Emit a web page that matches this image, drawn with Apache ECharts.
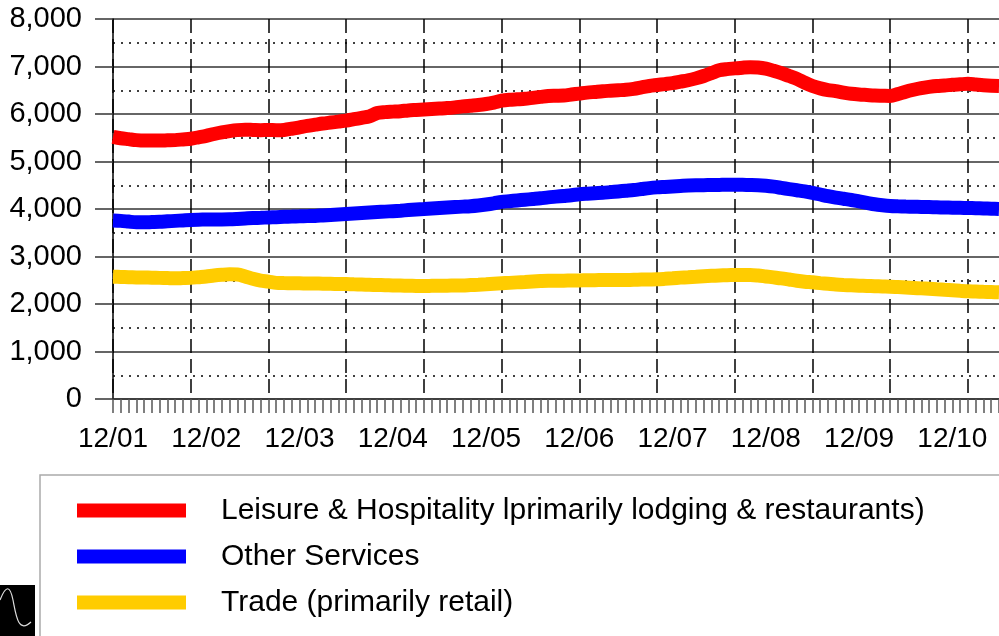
<!DOCTYPE html>
<html>
<head>
<meta charset="utf-8">
<script src="https://cdn.jsdelivr.net/npm/echarts@6/dist/echarts.min.js"></script>
<style>
    html, body { margin: 0; padding: 0; background: #fff; }
    #chart { width: 999px; height: 636px; }
</style>
</head>
<body>
<div id="chart"></div>
<script>
    // months Dec 2001 .. Jun 2011, label "MM/YY"
    const startYear = 2001, startMonth = 12, monthCount = 115;
    const months = [];
    for (let i = 0; i < monthCount; i++) {
        const m = (startMonth - 1 + i) % 12 + 1;
        const y = startYear + Math.floor((startMonth - 1 + i) / 12);
        months.push((m < 10 ? '0' : '') + m + '/' + String(y % 100).padStart(2, '0'));
    }

    const seriesNames = [
        'Leisure & Hospitality lprimarily lodging & restaurants)',
        'Other Services',
        'Trade (primarily retail)'
    ];

    const leisure = [
        5520, 5490, 5470, 5450, 5440, 5440, 5440, 5445, 5450, 5465,
        5480, 5510, 5540, 5580, 5615, 5640, 5660, 5670, 5665, 5660,
        5665, 5660, 5665, 5690, 5720, 5750, 5775, 5800, 5820, 5840,
        5860, 5890, 5920, 5950, 6020, 6040, 6050, 6060, 6075, 6085,
        6095, 6105, 6115, 6125, 6140, 6160, 6175, 6190, 6210, 6240,
        6280, 6300, 6310, 6320, 6340, 6360, 6380, 6385, 6390, 6410,
        6430, 6450, 6465, 6480, 6490, 6500, 6510, 6530, 6560, 6590,
        6610, 6630, 6650, 6680, 6710, 6750, 6800, 6860, 6920, 6945,
        6960, 6975, 6985, 6980, 6955, 6910, 6860, 6800, 6740, 6660,
        6590, 6540, 6505, 6480, 6450, 6425, 6410, 6400, 6390, 6385,
        6380, 6420, 6470, 6510, 6545, 6570, 6590, 6600, 6615, 6625,
        6635, 6620, 6605, 6595, 6590
    ];
    const otherServices = [
        3760, 3750, 3735, 3720, 3720, 3725, 3730, 3740, 3750, 3760,
        3770, 3775, 3778, 3780, 3780, 3782, 3790, 3800, 3810, 3815,
        3822, 3828, 3835, 3840, 3845, 3850, 3855, 3865, 3875, 3885,
        3895, 3905, 3915, 3925, 3935, 3945, 3955, 3965, 3978, 3990,
        4000, 4010, 4020, 4030, 4040, 4050, 4060, 4075, 4095, 4120,
        4150, 4165, 4180, 4195, 4210, 4225, 4245, 4260, 4275, 4290,
        4310, 4322, 4332, 4340, 4355, 4370, 4385, 4400, 4420, 4440,
        4455, 4465, 4475, 4485, 4495, 4500, 4502, 4505, 4507, 4510,
        4510, 4508, 4505, 4500, 4488, 4470, 4445, 4420, 4395, 4370,
        4340, 4305, 4270, 4240, 4215, 4190, 4160, 4130, 4100, 4080,
        4065, 4058, 4052, 4048, 4044, 4040, 4036, 4032, 4028, 4025,
        4022, 4018, 4012, 4006, 4000
    ];
    const trade = [
        2575, 2570, 2565, 2560, 2558, 2555, 2550, 2545, 2540, 2545,
        2550, 2565, 2580, 2600, 2615, 2625, 2620, 2580, 2530, 2490,
        2470, 2445, 2440, 2438, 2435, 2432, 2430, 2428, 2425, 2422,
        2420, 2415, 2410, 2405, 2400, 2395, 2390, 2387, 2384, 2381,
        2380, 2382, 2384, 2386, 2388, 2390, 2398, 2406, 2415, 2425,
        2435, 2445, 2455, 2465, 2475, 2482, 2488, 2490, 2492, 2495,
        2497, 2500, 2502, 2504, 2505, 2505, 2506, 2510, 2514, 2517,
        2520, 2530, 2542, 2555, 2565, 2575, 2585, 2593, 2600, 2606,
        2610, 2612, 2612, 2600, 2580, 2560, 2540, 2515, 2490, 2470,
        2456, 2440, 2425, 2410, 2400, 2393, 2386, 2380, 2374, 2369,
        2365, 2356, 2347, 2338, 2329, 2320, 2310, 2300, 2290, 2278,
        2267, 2262, 2256, 2251, 2246
    ];

    const colors = ['#ff0000', '#0000ff', '#ffcc00'];
    const font = '"Liberation Sans", Arial, sans-serif';

    const myChart = echarts.init(document.getElementById('chart'));

    const lineSeries = (name, data) => ({
        name: name,
        type: 'line',
        data: data,
        smooth: 0.3,
        showSymbol: false,
        lineStyle: { width: 14 }
    });

    const option = {
        color: colors,
        animation: false,
        textStyle: { fontFamily: font, color: '#000' },
        grid: { left: 113, top: 19, right: -4, bottom: 237 },
        legend: {
            orient: 'vertical',
            left: 77,
            top: 495,
            padding: 0,
            itemGap: 15,
            icon: 'rect',
            itemWidth: 109,
            itemHeight: 14,
            selectedMode: false,
            data: seriesNames,
            textStyle: {
                fontFamily: font,
                fontSize: 30,
                color: '#000',
                lineHeight: 31,
                padding: [0, 0, 0, 30]
            }
        },
        xAxis: {
            type: 'category',
            boundaryGap: false,
            data: months,
            axisLine: { lineStyle: { color: '#333', width: 1.5 } },
            axisTick: { interval: 0, length: 14, lineStyle: { color: '#555', width: 1.5 } },
            axisLabel: {
                interval: 11,
                margin: 26,
                fontSize: 28,
                color: '#000',
                fontFamily: font
            },
            splitLine: {
                show: true,
                interval: 9,
                lineStyle: { color: '#000', width: 1.5, type: [14, 6] }
            }
        },
        yAxis: {
            type: 'value',
            min: 0,
            max: 8000,
            interval: 1000,
            axisLine: { show: true, lineStyle: { color: '#000', width: 1.5 } },
            axisTick: { show: true, length: 18, lineStyle: { color: '#333', width: 1.5 } },
            axisLabel: {
                margin: 31,
                fontSize: 29,
                color: '#000',
                fontFamily: font,
                formatter: v => v.toLocaleString('en-US')
            },
            splitLine: { lineStyle: { color: '#333', width: 1.5 } },
            minorTick: { show: false, splitNumber: 2 },
            minorSplitLine: {
                show: true,
                lineStyle: { color: '#000', width: 1.5, type: [2, 6] }
            }
        },
        // legend frame + small logo bottom left
        graphic: [
            {
                type: 'rect',
                shape: { x: 40, y: 475, width: 1000, height: 200 },
                style: { fill: 'none', stroke: '#aaa', lineWidth: 1.5 },
                z: -1
            },
            {
                type: 'rect',
                shape: { x: 0, y: 585, width: 35, height: 60 },
                style: { fill: '#000' }
            },
            {
                type: 'bezierCurve',
                shape: { x1: 0, y1: 600, cpx1: 6, cpy1: 585, cpx2: 10, cpy2: 585, x2: 13, y2: 600 },
                style: { fill: 'none', stroke: '#ddd', lineWidth: 1.2 }
            },
            {
                type: 'bezierCurve',
                shape: { x1: 13, y1: 600, cpx1: 16, cpy1: 615, cpx2: 18, cpy2: 634, x2: 31, y2: 622 },
                style: { fill: 'none', stroke: '#ddd', lineWidth: 1.2 }
            }
        ],
        series: [
            lineSeries(seriesNames[0], leisure),
            lineSeries(seriesNames[1], otherServices),
            lineSeries(seriesNames[2], trade)
        ]
    };
    myChart.setOption(option);
</script>
</body>
</html>
